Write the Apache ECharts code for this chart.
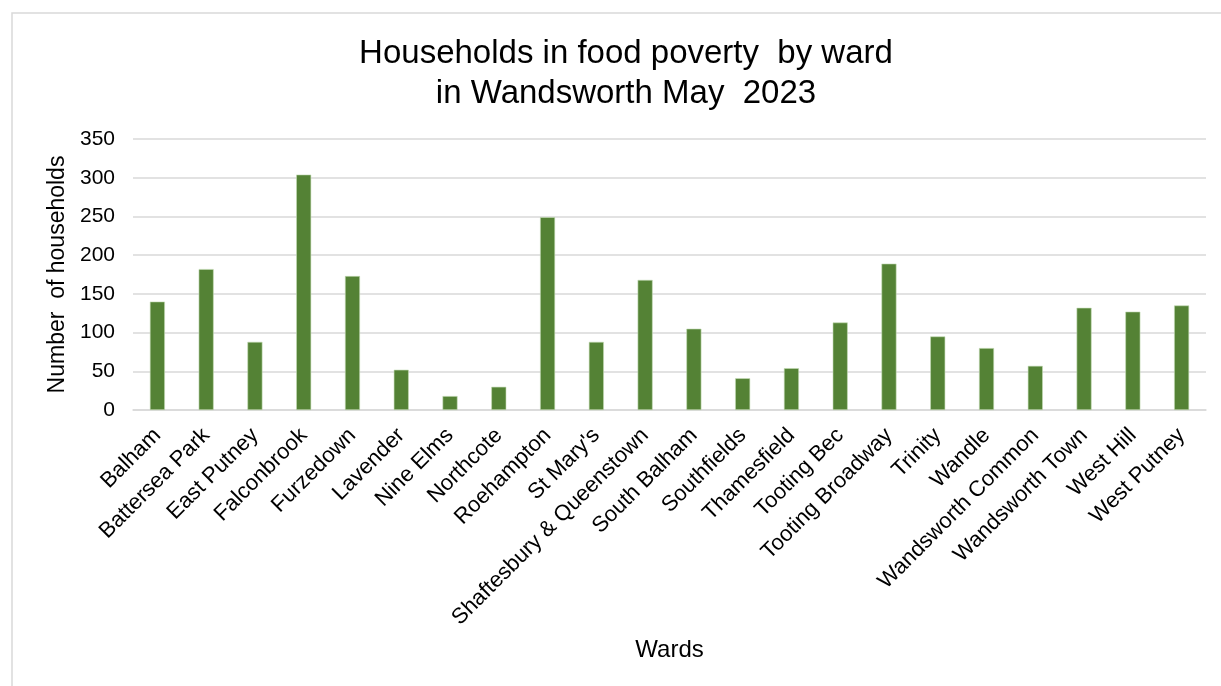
<!DOCTYPE html>
<html>
<head>
<meta charset="utf-8">
<script src="https://cdn.jsdelivr.net/npm/echarts@6/dist/echarts.min.js"></script>
<style>
html,body{margin:0;padding:0;background:#fff;}
#chart{width:1221px;height:686px;}
</style>
</head>
<body>
<div id="chart"></div>
<script>
const wards = ["Balham","Battersea Park","East Putney","Falconbrook","Furzedown","Lavender","Nine Elms","Northcote","Roehampton","St Mary's","Shaftesbury & Queenstown","South Balham","Southfields","Thamesfield","Tooting Bec","Tooting Broadway","Trinity","Wandle","Wandsworth Common","Wandsworth Town","West Hill","West Putney"];
const households = [140,182,88,304,173,52,18,30,249,88,168,105,41,54,113,189,95,80,57,132,127,135];
const yTicks = [0,50,100,150,200,250,300,350];

const FONT = "'Liberation Sans', Arial, sans-serif";
const chart = echarts.init(document.getElementById('chart'));
chart.setOption({
  animation:false,
  backgroundColor:'#fff',
  graphic:[{type:'rect',shape:{x:12,y:13,width:1400,height:900},style:{fill:'none',stroke:'#d9d9d9',lineWidth:1.5},silent:true}],
  title:{
    text:'Households in food poverty  by ward\nin Wandsworth May  2023',
    left:621, top:29, textAlign:'center',
    textStyle:{fontFamily:FONT,fontSize:33,fontWeight:'normal',color:'#000',lineHeight:40}
  },
  grid:{left:133,right:15,top:139,bottom:276,containLabel:false},
  xAxis:{
    type:'category', data:wards,
    name:'Wards', nameLocation:'middle', nameGap:228,
    nameTextStyle:{fontFamily:FONT,fontSize:24,color:'#000'},
    axisLine:{lineStyle:{color:'#d9d9d9',width:1.5}},
    axisTick:{show:false},
    axisLabel:{rotate:45,fontFamily:FONT,fontSize:22,color:'#000',margin:22,interval:0}
  },
  yAxis:{
    type:'value', min:yTicks[0], max:yTicks[yTicks.length-1], interval:50,
    name:'Number  of households', nameLocation:'middle', nameGap:64,
    nameTextStyle:{fontFamily:FONT,fontSize:23,color:'#000'},
    axisLine:{show:false}, axisTick:{show:false},
    axisLabel:{fontFamily:FONT,fontSize:21,color:'#000',margin:18},
    splitLine:{lineStyle:{color:'#d9d9d9',width:1.5}}
  },
  series:[{
    type:'bar', data:households, barWidth:15,
    itemStyle:{color:'#548235',borderColor:'#c5dbb5',borderWidth:0.6}
  }]
});
</script>
</body>
</html>
